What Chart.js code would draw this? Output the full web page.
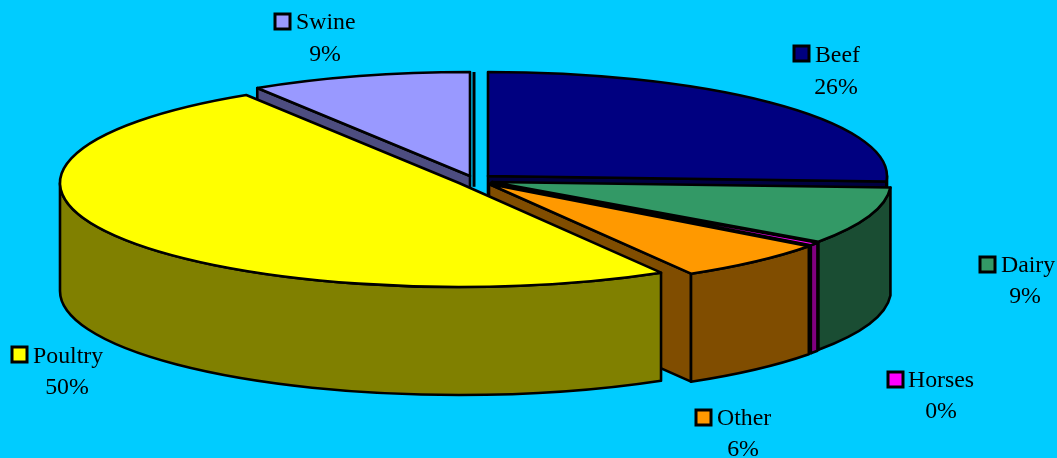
<!DOCTYPE html>
<html>
<head>
<meta charset="utf-8">
<title>Pie</title>
<script src="https://cdn.jsdelivr.net/npm/chart.js@4"></script>
<style>
html, body { margin: 0; padding: 0; background: #00CCFF; overflow: hidden; }
canvas { display: block; }
</style>
</head>
<body>
<canvas id="myChart" width="1057" height="458"></canvas>
<script>
// last entry is an empty zero slice, it only shows as a thin line at 12 o'clock
const categories = ['Beef', 'Dairy', 'Horses', 'Other', 'Poultry', 'Swine', ''];
const percents = [25.85, 8.9, 0.45, 6.35, 49.5, 8.95, 0];
const percentLabels = ['26%', '9%', '0%', '6%', '50%', '9%'];
const topColors = ['#000080', '#339966', '#FF00FF', '#FF9900', '#FFFF00', '#9999FF', '#00CCFF'];
const wallColors = ['#000040', '#1A4D33', '#800080', '#804D00', '#808000', '#4D4D80', '#00CCFF'];

// where each exploded slice has its apex
const centerX = [488, 492, 491, 489, 459, 470, 474];
const centerY = [176, 182, 183, 184, 183, 176, 176];
const radiusX = 399;
const radiusY = 104;
const depth = 108;

const wallOrder = [6, 5, 0, 1, 2, 3, 4];
const topOrder = [0, 5, 6, 1, 2, 3, 4];

// label spots: swatch left, swatch top, name left, name baseline, percent centre, percent baseline
const swatchX = [794, 980, 888, 696, 12, 275];
const swatchY = [46, 257, 372, 410, 347, 14];
const nameX = [815, 1001, 908, 717, 33, 296];
const nameY = [62, 272, 387, 425, 363, 29];
const pctX = [836, 1025, 941, 743, 67, 325];
const pctY = [94, 303, 418, 456, 394, 61];

function drawWalls(ctx, el, i) {
    const cx = centerX[i], cy = centerY[i];
    const a0 = el.startAngle, a1 = el.endAngle;
    ctx.fillStyle = wallColors[i];

    if (Math.abs(a1 - a0) < 1e-6) {
        // empty slice: just the edge line
        ctx.save();
        ctx.lineWidth = 3;
        ctx.beginPath();
        ctx.moveTo(cx + radiusX * Math.cos(a0), cy + radiusY * Math.sin(a0));
        ctx.lineTo(cx + radiusX * Math.cos(a0), cy + depth * 0.1);
        ctx.stroke();
        ctx.restore();
        return;
    }

    const radial = (a) => {
        const rimX = cx + radiusX * Math.cos(a), rimY = cy + radiusY * Math.sin(a);
        ctx.beginPath();
        ctx.moveTo(cx, cy);
        ctx.lineTo(rimX, rimY);
        ctx.lineTo(rimX, rimY + depth);
        ctx.lineTo(cx, cy + depth);
        ctx.closePath();
        ctx.fill();
        ctx.stroke();
    };
    if (Math.cos(a0) < -0.001) radial(a0);
    if (Math.cos(a1) > 0.001) radial(a1);

    const from = Math.max(a0, 0), to = Math.min(a1, Math.PI);
    if (to > from) {
        ctx.beginPath();
        ctx.ellipse(cx, cy, radiusX, radiusY, 0, from, to);
        ctx.ellipse(cx, cy + depth, radiusX, radiusY, 0, to, from, true);
        ctx.closePath();
        ctx.fill();
        ctx.stroke();
    }
}

function drawTop(ctx, el, i) {
    if (Math.abs(el.endAngle - el.startAngle) < 1e-6) return;
    const cx = centerX[i], cy = centerY[i];

    // the library's own arc, squashed into an ellipse
    ctx.save();
    ctx.translate(cx, cy);
    ctx.scale(radiusX / el.outerRadius, radiusY / el.outerRadius);
    ctx.translate(-el.x, -el.y);
    el.draw(ctx);
    ctx.restore();

    ctx.beginPath();
    ctx.moveTo(cx, cy);
    ctx.ellipse(cx, cy, radiusX, radiusY, 0, el.startAngle, el.endAngle);
    ctx.closePath();
    ctx.stroke();
}

const pie3d = {
    id: 'pie3d',
    beforeDatasetsDraw(chart) {
        const ctx = chart.ctx;
        const arcs = chart.getDatasetMeta(0).data;
        ctx.save();
        ctx.strokeStyle = '#000000';
        ctx.lineWidth = 2.6;
        ctx.lineJoin = 'round';
        wallOrder.forEach(i => drawWalls(ctx, arcs[i], i));
        topOrder.forEach(i => drawTop(ctx, arcs[i], i));
        ctx.restore();
        return false;
    },
    afterDraw(chart) {
        const ctx = chart.ctx;
        ctx.save();
        ctx.font = '23.8px "Liberation Serif"';
        ctx.textBaseline = 'alphabetic';
        swatchX.forEach((x, i) => {
            ctx.fillStyle = topColors[i];
            ctx.strokeStyle = '#000000';
            ctx.lineWidth = 3;
            ctx.fillRect(x, swatchY[i], 15, 15);
            ctx.strokeRect(x, swatchY[i], 15, 15);

            ctx.fillStyle = '#000000';
            ctx.textAlign = 'left';
            ctx.fillText(categories[i], nameX[i], nameY[i]);
            ctx.textAlign = 'center';
            ctx.fillText(percentLabels[i], pctX[i], pctY[i]);
        });
        ctx.restore();
    }
};

const myChart = new Chart(document.querySelector('#myChart').getContext('2d'), {
    type: 'pie',
    plugins: [pie3d],
    data: {
        labels: categories,
        datasets: [{
            data: percents,
            backgroundColor: topColors,
            borderWidth: 0
        }]
    },
    options: {
        responsive: false,
        animation: false,
        events: [],
        plugins: {
            legend: { display: false },
            tooltip: { enabled: false }
        }
    }
});
</script>
</body>
</html>
